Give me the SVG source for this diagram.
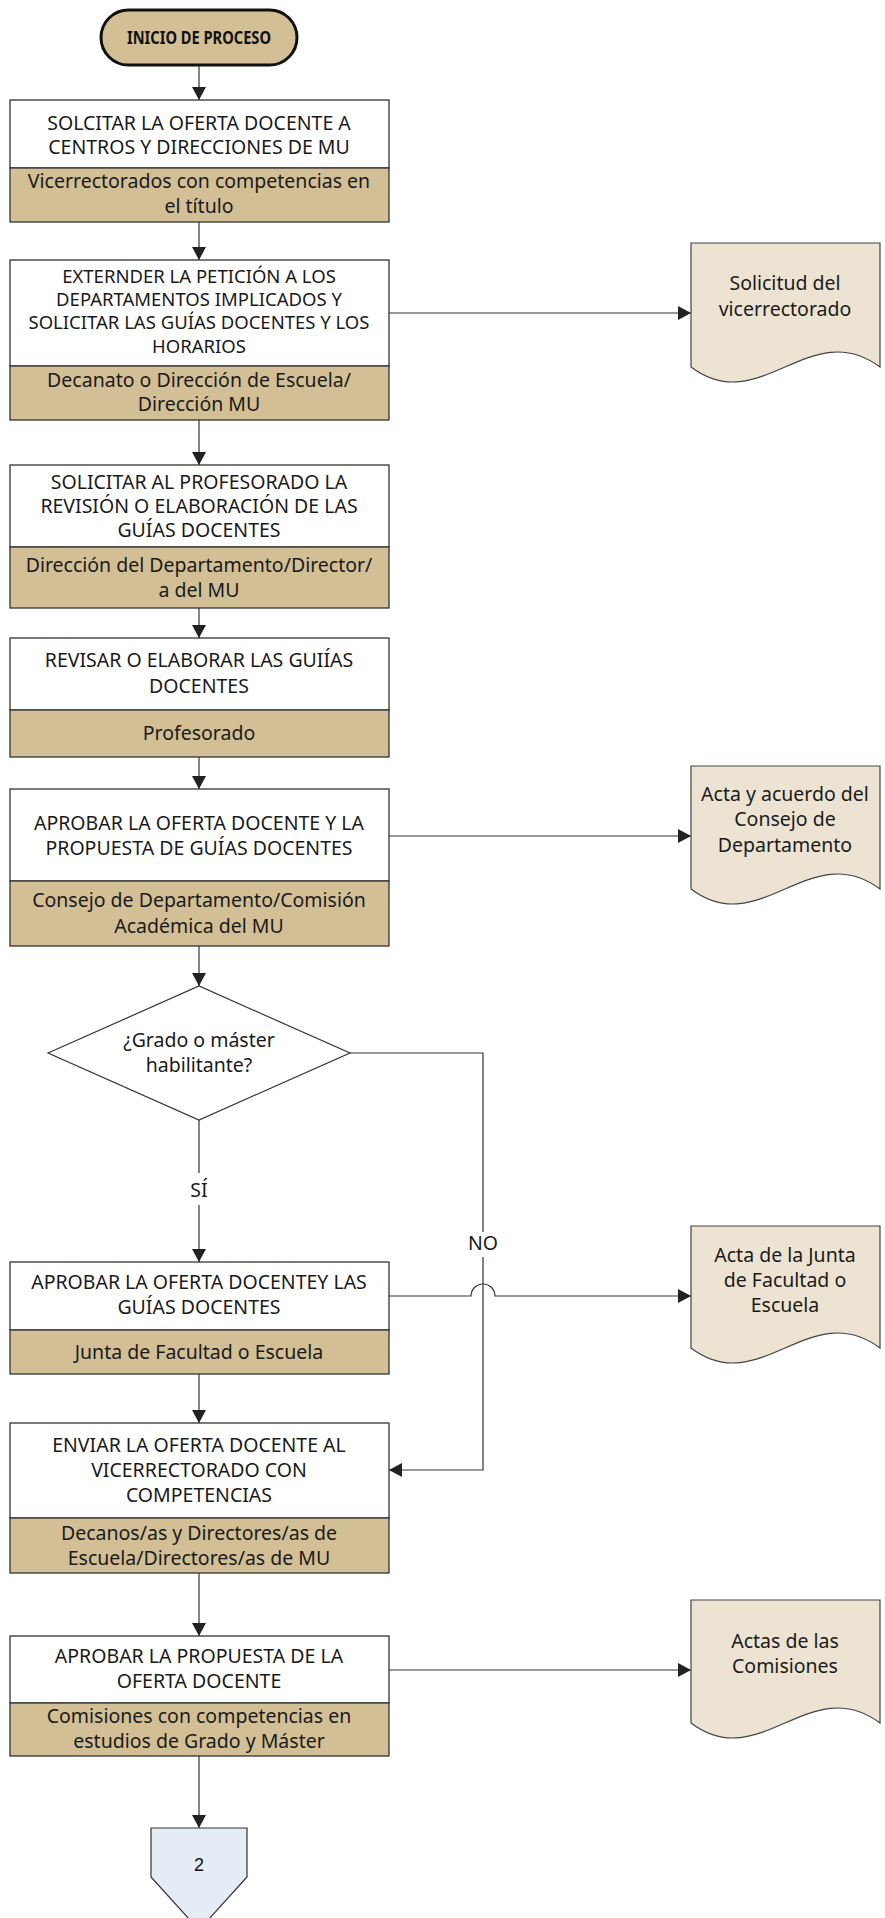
<svg xmlns="http://www.w3.org/2000/svg" width="885" height="1918" viewBox="0 0 885 1918">
<style>
.t{font-family:"Noto Sans","DejaVu Sans",sans-serif;font-size:19.5px;fill:#1a1a1a;text-anchor:middle}
.s{font-size:18.5px}
.b{font-family:"Noto Sans","DejaVu Sans",sans-serif;font-size:17px;font-weight:bold;fill:#111;text-anchor:middle}
.w{fill:#fff;stroke:#333;stroke-width:1.3}
.tan{fill:#D3BF95;stroke:#333;stroke-width:1.3}
.doc{fill:#EDE3D2;stroke:#444;stroke-width:1.2}
.c{fill:none;stroke:#333;stroke-width:1.2}
.ca{fill:none;stroke:#333;stroke-width:1.2;marker-end:url(#ah)}
</style>
<defs>
<marker id="ah" markerUnits="userSpaceOnUse" markerWidth="14" markerHeight="14" refX="13" refY="7" orient="auto">
<path d="M0,0 L13,7 L0,14 z" fill="#222"/>
</marker>
</defs>

<g id="connectors">
<line class="ca" x1="199" y1="65" x2="199" y2="100"/>
<line class="ca" x1="199" y1="222" x2="199" y2="260"/>
<line class="ca" x1="199" y1="420" x2="199" y2="465"/>
<line class="ca" x1="199" y1="608" x2="199" y2="638"/>
<line class="ca" x1="199" y1="757" x2="199" y2="789"/>
<line class="ca" x1="199" y1="946" x2="199" y2="986"/>
<line class="c" x1="199" y1="1120" x2="199" y2="1173"/>
<line class="ca" x1="199" y1="1205" x2="199" y2="1262"/>
<line class="ca" x1="199" y1="1374" x2="199" y2="1423"/>
<line class="ca" x1="199" y1="1573" x2="199" y2="1636"/>
<line class="ca" x1="199" y1="1756" x2="199" y2="1828"/>
<line class="ca" x1="389" y1="313" x2="691" y2="313"/>
<line class="ca" x1="389" y1="836" x2="691" y2="836"/>
<path class="ca" d="M389,1296 L471,1296 A12,12 0 0 1 495,1296 L691,1296"/>
<line class="ca" x1="389" y1="1670" x2="691" y2="1670"/>
<polyline class="c" points="350,1053 483,1053 483,1232"/>
<polyline class="ca" points="483,1257 483,1470 389,1470"/>
<text class="t" x="199" y="1197">SÍ</text>
<text class="t" x="483" y="1250">NO</text>
</g>

<g id="start">
<rect x="101" y="10" width="196" height="55" rx="27.5" fill="#D3BF95" stroke="#111" stroke-width="3"/>
<text class="b" x="199" y="44" textLength="144" lengthAdjust="spacingAndGlyphs">INICIO DE PROCESO</text>
</g>

<g id="box1">
<rect class="w" x="10" y="100" width="379" height="68"/>
<rect class="tan" x="10" y="168" width="379" height="54"/>
<text class="t" x="199" y="130">SOLCITAR LA OFERTA DOCENTE A</text>
<text class="t" x="199" y="154">CENTROS Y DIRECCIONES DE MU</text>
<text class="t" x="199" y="188">Vicerrectorados con competencias en</text>
<text class="t" x="199" y="213">el título</text>
</g>

<g id="box2">
<rect class="w" x="10" y="260" width="379" height="106"/>
<rect class="tan" x="10" y="366" width="379" height="54"/>
<text class="t s" x="199" y="283">EXTERNDER LA PETICIÓN A LOS</text>
<text class="t s" x="199" y="306">DEPARTAMENTOS IMPLICADOS Y</text>
<text class="t s" x="199" y="329">SOLICITAR LAS GUÍAS DOCENTES Y LOS</text>
<text class="t s" x="199" y="353">HORARIOS</text>
<text class="t" x="199" y="387">Decanato o Dirección de Escuela/</text>
<text class="t" x="199" y="411">Dirección MU</text>
</g>

<g id="box3">
<rect class="w" x="10" y="465" width="379" height="82"/>
<rect class="tan" x="10" y="547" width="379" height="61"/>
<text class="t" x="199" y="489">SOLICITAR AL PROFESORADO LA</text>
<text class="t" x="199" y="513">REVISIÓN O ELABORACIÓN DE LAS</text>
<text class="t" x="199" y="537">GUÍAS DOCENTES</text>
<text class="t" x="199" y="572">Dirección del Departamento/Director/</text>
<text class="t" x="199" y="597">a del MU</text>
</g>

<g id="box4">
<rect class="w" x="10" y="638" width="379" height="72"/>
<rect class="tan" x="10" y="710" width="379" height="47"/>
<text class="t" x="199" y="667">REVISAR O ELABORAR LAS GUIÍAS</text>
<text class="t" x="199" y="693">DOCENTES</text>
<text class="t" x="199" y="740">Profesorado</text>
</g>

<g id="box5">
<rect class="w" x="10" y="789" width="379" height="92"/>
<rect class="tan" x="10" y="881" width="379" height="65"/>
<text class="t" x="199" y="830">APROBAR LA OFERTA DOCENTE Y LA</text>
<text class="t" x="199" y="855">PROPUESTA DE GUÍAS DOCENTES</text>
<text class="t" x="199" y="907">Consejo de Departamento/Comisión</text>
<text class="t" x="199" y="933">Académica del MU</text>
</g>

<g id="decision">
<polygon points="48,1053 199,986 350,1053 199,1120" fill="#fff" stroke="#333" stroke-width="1.2"/>
<text class="t" x="199" y="1047">¿Grado o máster</text>
<text class="t" x="199" y="1072">habilitante?</text>
</g>

<g id="box6">
<rect class="w" x="10" y="1262" width="379" height="68"/>
<rect class="tan" x="10" y="1330" width="379" height="44"/>
<text class="t" x="199" y="1289">APROBAR LA OFERTA DOCENTEY LAS</text>
<text class="t" x="199" y="1314">GUÍAS DOCENTES</text>
<text class="t" x="199" y="1359">Junta de Facultad o Escuela</text>
</g>

<g id="box7">
<rect class="w" x="10" y="1423" width="379" height="95"/>
<rect class="tan" x="10" y="1518" width="379" height="55"/>
<text class="t" x="199" y="1452">ENVIAR LA OFERTA DOCENTE AL</text>
<text class="t" x="199" y="1477">VICERRECTORADO CON</text>
<text class="t" x="199" y="1502">COMPETENCIAS</text>
<text class="t" x="199" y="1540">Decanos/as y Directores/as de</text>
<text class="t" x="199" y="1565">Escuela/Directores/as de MU</text>
</g>

<g id="box8">
<rect class="w" x="10" y="1636" width="379" height="67"/>
<rect class="tan" x="10" y="1703" width="379" height="53"/>
<text class="t" x="199" y="1663">APROBAR LA PROPUESTA DE LA</text>
<text class="t" x="199" y="1688">OFERTA DOCENTE</text>
<text class="t" x="199" y="1723">Comisiones con competencias en</text>
<text class="t" x="199" y="1748">estudios de Grado y Máster</text>
</g>

<g id="doc1">
<path class="doc" d="M691,243 L880,243 L880,367 C810,315 760,419 691,367 Z"/>
<text class="t" x="785" y="290">Solicitud del</text>
<text class="t" x="785" y="316">vicerrectorado</text>
</g>

<g id="doc2">
<path class="doc" d="M691,766 L880,766 L880,889 C810,837 760,941 691,889 Z"/>
<text class="t" x="785" y="801">Acta y acuerdo del</text>
<text class="t" x="785" y="826">Consejo de</text>
<text class="t" x="785" y="852">Departamento</text>
</g>

<g id="doc3">
<path class="doc" d="M691,1226 L880,1226 L880,1348 C810,1296 760,1400 691,1348 Z"/>
<text class="t" x="785" y="1262">Acta de la Junta</text>
<text class="t" x="785" y="1287">de Facultad o</text>
<text class="t" x="785" y="1312">Escuela</text>
</g>

<g id="doc4">
<path class="doc" d="M691,1600 L880,1600 L880,1723 C810,1671 760,1775 691,1723 Z"/>
<text class="t" x="785" y="1648">Actas de las</text>
<text class="t" x="785" y="1673">Comisiones</text>
</g>

<g id="offpage">
<polygon points="151,1828 247,1828 247,1877 199,1930 151,1877" fill="#E6ECF6" stroke="#333" stroke-width="1.2"/>
<text x="199" y="1871" font-family="Liberation Sans, Arial, sans-serif" font-size="18" fill="#111" text-anchor="middle">2</text>
</g>
</svg>
